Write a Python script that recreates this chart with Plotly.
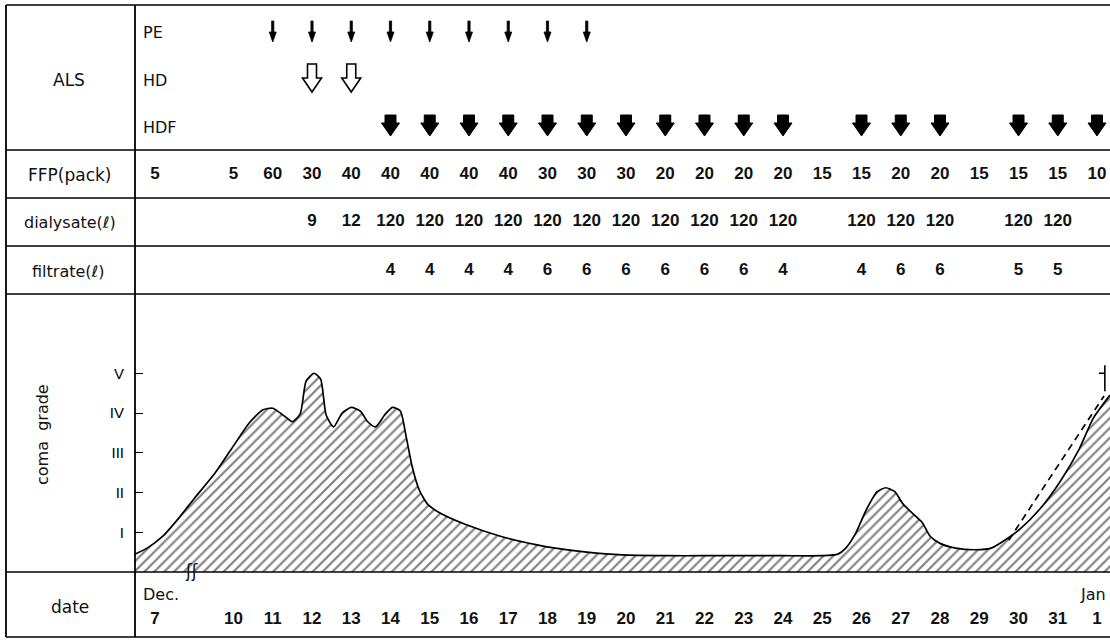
import plotly.graph_objects as go

# ---------------- data ----------------
date_labels = ["7", "10", "11", "12", "13", "14", "15", "16", "17", "18", "19", "20",
               "21", "22", "23", "24", "25", "26", "27", "28", "29", "30", "31", "1"]
# slot of each date on the time axis (Dec 7 sits next to the axis break, Jan 1 = 32)
date_slots = [8, 10, 11, 12, 13, 14, 15, 16, 17, 18, 19, 20,
              21, 22, 23, 24, 25, 26, 27, 28, 29, 30, 31, 32]

pe_days = [11, 12, 13, 14, 15, 16, 17, 18, 19]
hd_days = [12, 13]
hdf_days = [14, 15, 16, 17, 18, 19, 20, 21, 22, 23, 24, 26, 27, 28, 30, 31, 32]

ffp_packs = [5, 5, 60, 30, 40, 40, 40, 40, 40, 30, 30, 30,
             20, 20, 20, 20, 15, 15, 20, 20, 15, 15, 15, 10]

dial_days = [12, 13, 14, 15, 16, 17, 18, 19, 20, 21, 22, 23, 24, 26, 27, 28, 30, 31]
dial_litres = [9, 12, 120, 120, 120, 120, 120, 120, 120, 120, 120, 120, 120,
               120, 120, 120, 120, 120]

filt_days = [14, 15, 16, 17, 18, 19, 20, 21, 22, 23, 24, 26, 27, 28, 30, 31]
filt_litres = [4, 4, 4, 4, 6, 6, 6, 6, 6, 6, 4, 4, 6, 6, 5, 5]

coma_days = [7.49, 7.8, 8.2, 8.6, 9.0, 9.5, 9.95, 10.4, 10.75, 11.0, 11.3, 11.5,
             11.7, 11.85, 12.05, 12.22, 12.36, 12.55, 12.77, 13.0, 13.23, 13.42,
             13.62, 13.85, 14.05, 14.25, 14.4, 14.55, 14.73, 14.95, 15.25, 15.9,
             16.8, 17.7, 18.2, 19.0, 19.9, 21.0, 22.0, 23.0, 24.0, 25.0, 25.4,
             25.6, 25.85, 26.12, 26.4, 26.62, 26.85, 27.05, 27.35, 27.55, 27.75,
             28.0, 28.4, 28.9, 29.3, 29.65, 30.05, 30.55, 31.05, 31.55, 31.9, 32.33]
coma_grade = [0.45, 0.6, 0.9, 1.35, 1.85, 2.45, 3.1, 3.75, 4.08, 4.12, 3.92, 3.78,
              3.98, 4.8, 5.0, 4.85, 3.95, 3.65, 4.0, 4.14, 4.05, 3.78,
              3.65, 3.95, 4.14, 4.05, 3.4, 2.66, 2.07, 1.7, 1.49, 1.2,
              0.9, 0.69, 0.6, 0.5, 0.43, 0.41, 0.41, 0.41, 0.41, 0.41, 0.45,
              0.6, 0.97, 1.56, 2.02, 2.12, 2.02, 1.72, 1.43, 1.24, 0.9,
              0.72, 0.6, 0.56, 0.6, 0.8, 1.09, 1.59, 2.26, 3.1, 3.86, 4.45]

dash_days = [29.75, 32.18]
dash_grade = [0.8, 4.43]

# death mark (dagger) at the end of the course
death_day = 32.2
death_grade_low = 4.55
death_grade_high = 5.2
death_bar_grade = 5.0

grade_ticks = [1, 2, 3, 4, 5]
grade_labels = ["I", "II", "III", "IV", "V"]

# ---------------- layout geometry ----------------
W, H = 1110, 640
PX_PER_DAY = 39.25
DAY_AT_312 = 12.0


def px_to_day(px):
    return DAY_AT_312 + (px - 312) / PX_PER_DAY


DIV_X = 135
LEFT_X = 6
row_lines = [5, 150, 198, 246, 294, 572, 637]
BASE_Y = 572
GRADE_PX = 39.75

NUM = "Liberation Sans Narrow, Liberation Sans, Arial, sans-serif"
LABEL = "DejaVu Sans, Verdana, sans-serif"

fig = go.Figure()

# coma grade curve (hatched)
fig.add_trace(go.Scatter(
    x=coma_days, y=coma_grade, mode="lines",
    line=dict(color="black", width=1.7, shape="spline", smoothing=0.6),
    fill="tozeroy", fillcolor="white",
    fillpattern=dict(shape="/", size=7, solidity=0.3, fgcolor="black", bgcolor="white"),
    hoverinfo="skip", showlegend=False, xaxis="x", yaxis="y"))

fig.add_trace(go.Scatter(
    x=dash_days, y=dash_grade, mode="lines",
    line=dict(color="black", width=1.7, dash="7px,5px"),
    hoverinfo="skip", showlegend=False, xaxis="x", yaxis="y"))

# dagger: vertical stroke plus short cross bar on the left
bar = 6 / PX_PER_DAY
fig.add_trace(go.Scatter(
    x=[death_day, death_day, None, death_day - bar, death_day],
    y=[death_grade_low, death_grade_high, None, death_bar_grade, death_bar_grade],
    mode="lines", line=dict(color="black", width=1.6),
    hoverinfo="skip", showlegend=False, cliponaxis=False, xaxis="x", yaxis="y"))


def text_row(xs, vals, ypos, size=17):
    fig.add_trace(go.Scatter(
        x=xs, y=[ypos] * len(xs), mode="text", text=[f"<b>{v}</b>" for v in vals],
        textposition="middle center",
        textfont=dict(family=NUM, size=size, color="#111"),
        hoverinfo="skip", showlegend=False, cliponaxis=False,
        xaxis="x", yaxis="y2"))


text_row(date_slots, ffp_packs, 175)
text_row(dial_days, dial_litres, 222)
text_row(filt_days, filt_litres, 271)
text_row(date_slots, date_labels, 620)

# ---------------- arrows ----------------
shapes = []


def block_arrow(xd, top, neck, tip, stem_w, head_w):
    s = stem_w / 2 / PX_PER_DAY
    h = head_w / 2 / PX_PER_DAY
    return (f"M{xd - s},{top} L{xd + s},{top} L{xd + s},{neck} L{xd + h},{neck} "
            f"L{xd},{tip} L{xd - h},{neck} L{xd - s},{neck} Z")


for d in pe_days:
    shapes.append(dict(type="path", xref="x", yref="y2",
                       path=block_arrow(d, 21, 32, 42, 2.2, 7),
                       fillcolor="black", line=dict(color="black", width=0.8)))
for d in hd_days:
    shapes.append(dict(type="path", xref="x", yref="y2",
                       path=block_arrow(d, 64, 78, 92, 9, 19),
                       fillcolor="white", line=dict(color="black", width=1.6)))
for d in hdf_days:
    shapes.append(dict(type="path", xref="x", yref="y2",
                       path=block_arrow(d, 115, 123, 136, 11, 18),
                       fillcolor="black", line=dict(color="black", width=1)))

# ---------------- table lines ----------------
for yy in row_lines:
    shapes.append(dict(type="line", xref="paper", yref="y2",
                       x0=LEFT_X / W, x1=1, y0=yy, y1=yy,
                       line=dict(color="black", width=1.6)))
for xx in (LEFT_X, DIV_X):
    shapes.append(dict(type="line", xref="paper", yref="y2",
                       x0=xx / W, x1=xx / W, y0=row_lines[0], y1=row_lines[-1],
                       line=dict(color="black", width=1.8)))

# ---------------- annotations ----------------
ann = []


def label(text, xpx, ypx, size=16, anchor="center", angle=0, family=LABEL):
    ann.append(dict(text=text, x=xpx / W, y=ypx, xref="paper", yref="y2",
                    xanchor=anchor, yanchor="middle", showarrow=False,
                    textangle=angle, font=dict(family=family, size=size, color="#111")))


label("ALS", 69, 80, 17)
label("FFP(pack)", 69, 175, 17)
label("dialysate(ℓ)", 70, 222, 16)
label("filtrate(ℓ)", 68, 271, 16)
label("coma  grade", 42, 435, 16, angle=-90)
label("date", 70, 607, 17)
label("PE", 141, 32, 16, anchor="left")
label("HD", 141, 80, 16, anchor="left")
label("HDF", 141, 127, 16, anchor="left")
label("Dec.", 141, 594, 16, anchor="left")
label("Jan", 1108, 594, 16, anchor="right")
label("ʃʃ", 192, 571, 17, family="DejaVu Sans")

fig.update_layout(
    width=W, height=H,
    margin=dict(l=0, r=0, t=0, b=0),
    paper_bgcolor="white", plot_bgcolor="rgba(0,0,0,0)",
    showlegend=False,
    xaxis=dict(domain=[DIV_X / W, 1], range=[px_to_day(DIV_X), px_to_day(W)],
               visible=False, fixedrange=True),
    yaxis=dict(domain=[(H - BASE_Y) / H, (H - row_lines[4]) / H],
               range=[0, (BASE_Y - row_lines[4]) / GRADE_PX],
               tickvals=grade_ticks, ticktext=grade_labels,
               ticks="inside", ticklen=8, tickwidth=1.3, tickcolor="black",
               ticklabelstandoff=10,
               tickfont=dict(family="Liberation Sans", size=15, color="black"),
               showgrid=False, zeroline=False, showline=False, fixedrange=True),
    yaxis2=dict(domain=[0, 1], range=[H, 0], anchor="x", visible=False,
                fixedrange=True),
    shapes=shapes, annotations=ann,
)

fig.write_html(
    "out.html",
    config={"displayModeBar": False},
    post_script="document.body.style.margin='0';document.body.style.overflow='hidden';",
)
